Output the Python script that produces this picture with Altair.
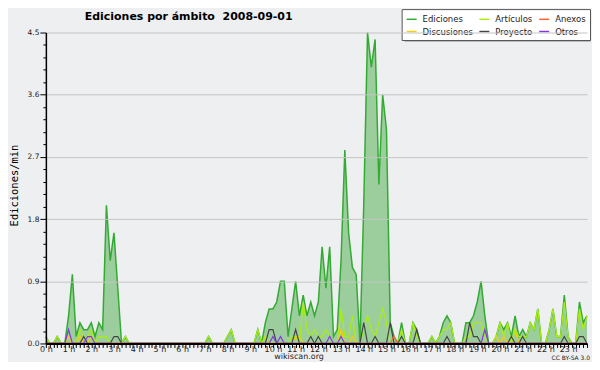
import altair as alt
import pandas as pd

# 10-minute buckets over the day (minutes since 00:00), one row per hour below
minutes = [10 * i for i in range(144)]

ediciones = [
    0.1, 0, 0, 0.1, 0, 0,          # 0 h
    0.4, 1.0, 0.1, 0.3, 0.2, 0.2,  # 1 h
    0.3, 0.1, 0.3, 0.2, 2.0, 1.2,  # 2 h
    1.6, 0.8, 0, 0.1, 0, 0,        # 3 h
    0, 0, 0, 0, 0, 0,              # 4 h
    0, 0, 0, 0, 0, 0,              # 5 h
    0, 0, 0, 0, 0, 0,              # 6 h
    0, 0.1, 0, 0, 0, 0,            # 7 h
    0.1, 0.2, 0, 0, 0, 0,          # 8 h
    0, 0, 0.2, 0, 0.3, 0.5,        # 9 h
    0.5, 0.6, 0.9, 0.9, 0.1, 0.5,  # 10 h
    0.9, 0.4, 0.7, 0.4, 0.6, 0.4,  # 11 h
    0.6, 1.4, 0.8, 1.4, 0.1, 0.2,  # 12 h
    1.2, 2.8, 1.6, 1.1, 1.0, 0.0,  # 13 h
    2.0, 4.5, 4.0, 4.4, 2.3, 3.6,  # 14 h
    3.1, 0.3, 0.1, 0, 0.3, 0,      # 15 h
    0, 0.3, 0.2, 0, 0, 0,          # 16 h
    0.1, 0, 0.1, 0.3, 0.4, 0.3,    # 17 h
    0, 0, 0, 0.3, 0.3, 0.4,        # 18 h
    0.6, 0.9, 0.4, 0, 0, 0.1,      # 19 h
    0.3, 0.2, 0.3, 0.1, 0.4, 0.1,  # 20 h
    0.2, 0.1, 0.3, 0.2, 0.5, 0,    # 21 h
    0, 0.2, 0.5, 0.1, 0.1, 0.7,    # 22 h
    0.1, 0, 0, 0.6, 0.3, 0.4,      # 23 h
]

articulos = [
    0.1, 0, 0, 0.1, 0, 0,
    0, 0, 0, 0.2, 0.1, 0.1,
    0.2, 0, 0.1, 0.1, 0.1, 0,
    0, 0, 0, 0.1, 0, 0,
    0, 0, 0, 0, 0, 0,
    0, 0, 0, 0, 0, 0,
    0, 0, 0, 0, 0, 0,
    0, 0.1, 0, 0, 0, 0,
    0.1, 0.2, 0, 0, 0, 0,
    0, 0, 0.2, 0, 0.1, 0,
    0, 0, 0, 0, 0, 0.1,
    0.1, 0, 0.6, 0.2, 0.1, 0.2,
    0.1, 0.1, 0.2, 0.1, 0, 0,
    0.5, 0.1, 0.1, 0.4, 0, 0,
    0.2, 0.4, 0.2, 0.1, 0.3, 0.5,
    0.3, 0, 0, 0, 0.2, 0,
    0, 0.3, 0.1, 0, 0, 0,
    0.1, 0, 0.1, 0.2, 0.2, 0.3,
    0, 0, 0, 0.1, 0.1, 0.3,
    0.3, 0.3, 0.1, 0, 0, 0.1,
    0.3, 0.1, 0.3, 0, 0.2, 0.1,
    0.1, 0.1, 0.3, 0.2, 0.5, 0,
    0, 0.2, 0.5, 0.1, 0.1, 0.6,
    0.1, 0, 0, 0.5, 0.2, 0.4,
]

discusiones = [
    0, 0, 0, 0, 0, 0,
    0.1, 0, 0, 0.1, 0, 0,
    0.1, 0, 0, 0, 0, 0,
    0, 0, 0, 0, 0, 0,
    0, 0, 0, 0, 0, 0,
    0, 0, 0, 0, 0, 0,
    0, 0, 0, 0, 0, 0,
    0, 0, 0, 0, 0, 0,
    0, 0, 0, 0, 0, 0,
    0, 0, 0, 0, 0.1, 0,
    0, 0, 0, 0, 0, 0,
    0.1, 0.1, 0, 0, 0, 0,
    0, 0, 0, 0, 0, 0,
    0.2, 0, 0, 0.1, 0, 0,
    0, 0, 0, 0, 0, 0,
    0, 0, 0, 0, 0, 0,
    0, 0, 0, 0, 0, 0,
    0, 0, 0, 0, 0, 0,
    0, 0, 0, 0, 0, 0,
    0, 0, 0, 0, 0, 0.1,
    0, 0.1, 0, 0, 0.2, 0,
    0, 0, 0, 0, 0, 0,
    0, 0, 0, 0, 0, 0,
    0, 0, 0, 0, 0, 0,
]

anexos = [0] * 92 + [0.1] + [0] * 51

proyecto = [
    0, 0, 0, 0, 0, 0,
    0, 0, 0, 0, 0.1, 0,
    0, 0, 0, 0, 0, 0,
    0.1, 0.1, 0, 0, 0, 0,
    0, 0, 0, 0, 0, 0,
    0, 0, 0, 0, 0, 0,
    0, 0, 0, 0, 0, 0,
    0, 0, 0, 0, 0, 0,
    0, 0, 0, 0, 0, 0,
    0, 0, 0, 0, 0, 0.2,
    0.2, 0, 0, 0, 0, 0,
    0.2, 0, 0, 0, 0.1, 0,
    0.1, 0, 0, 0, 0, 0,
    0, 0, 0, 0, 0, 0,
    0.3, 0, 0, 0.1, 0, 0,
    0, 0.3, 0, 0, 0.1, 0,
    0, 0, 0.2, 0, 0, 0,
    0, 0, 0, 0, 0.1, 0,
    0, 0, 0, 0, 0.3, 0.1,
    0.1, 0, 0, 0, 0, 0,
    0, 0, 0, 0.1, 0, 0,
    0.1, 0, 0, 0, 0, 0,
    0, 0, 0, 0, 0, 0.1,
    0, 0, 0, 0.1, 0.1, 0,
]

otros = [
    0, 0, 0, 0, 0, 0,
    0.2, 0, 0, 0, 0, 0.1,
    0.1, 0, 0, 0, 0, 0,
    0, 0, 0, 0, 0, 0,
    0, 0, 0, 0, 0, 0,
    0, 0, 0, 0, 0, 0,
    0, 0, 0, 0, 0, 0,
    0, 0, 0, 0, 0, 0,
    0, 0, 0, 0, 0, 0,
    0, 0, 0, 0, 0, 0,
    0.1, 0, 0.1, 0, 0, 0,
    0, 0, 0, 0, 0, 0,
    0, 0, 0, 0.1, 0, 0,
    0.1, 0, 0, 0, 0, 0,
    0, 0, 0, 0, 0, 0,
    0, 0, 0, 0, 0, 0,
    0, 0, 0, 0, 0, 0,
    0, 0, 0, 0, 0, 0,
    0, 0, 0, 0, 0, 0,
    0, 0, 0.2, 0, 0, 0,
    0, 0, 0, 0, 0, 0,
    0, 0, 0, 0, 0, 0,
    0, 0, 0, 0, 0, 0,
    0, 0, 0, 0, 0, 0,
]

# legend is filled column by column: (Ediciones, Discusiones), (Artículos, Proyecto), (Anexos, Otros)
series_names = ["Ediciones", "Discusiones", "Artículos", "Proyecto", "Anexos", "Otros"]
series_values = [ediciones, discusiones, articulos, proyecto, anexos, otros]
series_colors = ["#33aa33", "#ffcc00", "#aaee11", "#444444", "#ff6633", "#8833ee"]

title_text = "Ediciones por ámbito\u00a0 2008-09-01"
y_title = "Ediciones/min"
footer_text = "wikiscan.org"
license_text = "CC BY-SA 3.0"

rows = []
for name, vals in zip(series_names, series_values):
    for m, v in zip(minutes, vals):
        rows.append({"t": m, "v": v, "serie": name})
df = pd.DataFrame(rows)

major = "round(datum.value*100) % 90 == 0"
y_ticks = [round(0.18 * k, 2) for k in range(26)]

x_enc = alt.X(
    "t:Q",
    scale=alt.Scale(domain=[0, 1430], nice=False, zero=False),
    axis=alt.Axis(
        values=minutes,
        labelExpr="datum.value % 60 == 0 ? (datum.value / 60) + ' h' : ''",
        labelOverlap=False, labelFlush=False,
        labelFont="DejaVu Sans", labelFontSize=8, labelColor="#222",
        labelPadding=-2, tickSize=4, tickColor="black",
        domainColor="black", domainWidth=2,
        grid=False, title=None, zindex=1,
    ),
)
y_enc = alt.Y(
    "v:Q",
    scale=alt.Scale(domain=[0, 4.5], nice=False, zero=True),
    axis=alt.Axis(
        values=y_ticks,
        labelExpr=f"{major} ? format(datum.value, '.1f') : ''",
        labelOverlap=False, labelFlush=False,
        labelFont="DejaVu Sans", labelFontSize=7.5, labelColor="#222", labelPadding=1,
        tickSize={"condition": {"test": major, "value": 6}, "value": 3},
        tickColor="black", domainColor="black", domainWidth=1.5,
        grid=True, gridColor="#c4c4c4",
        gridOpacity={"condition": {"test": major, "value": 1}, "value": 0},
        title=y_title, titleFont="DejaVu Sans Mono", titleFontSize=10.5,
        titleFontWeight="normal", titleColor="black",
        titleX=-31, titleY=153, titleBaseline="middle", titleAngle=270,
        zindex=1,
    ),
)

color = alt.Color(
    "serie:N",
    scale=alt.Scale(domain=series_names, range=series_colors),
    legend=alt.Legend(
        orient="none", legendX=357, legendY=-23.5, columns=3, gridAlign="each",
        title=None, symbolType="stroke", symbolSize=100, symbolStrokeWidth=1.5,
        labelFont="DejaVu Sans", labelFontSize=8.5, labelColor="#222",
        labelOffset=5, columnPadding=3, rowPadding=1.5, padding=4,
        fillColor="white", strokeColor="#555555",
    ),
)

base = alt.Chart(df)

area = base.transform_filter(alt.datum.serie == "Ediciones").mark_area(
    fill="#28a028", fillOpacity=0.41
).encode(x=x_enc, y=y_enc)

ed_line = base.transform_filter(alt.datum.serie == "Ediciones").mark_line(
    strokeWidth=1.5
).encode(x=x_enc, y=y_enc, color=color)

sub_lines = base.transform_filter(alt.datum.serie != "Ediciones").mark_line(
    strokeWidth=1.2
).encode(x=x_enc, y=y_enc, color=color)

shadow = alt.Chart(pd.DataFrame({"k": [0]})).mark_rect(fill="#8a8a8a").encode(
    x=alt.value(360), x2=alt.value(546.5), y=alt.value(-20.5), y2=alt.value(9)
)

title = alt.Chart(pd.DataFrame({"t": [title_text]})).mark_text(
    font="DejaVu Sans", fontSize=11, fontWeight="bold", align="left",
    baseline="alphabetic", color="black"
).encode(text="t:N", x=alt.value(39), y=alt.value(-13))

footer = alt.Chart(pd.DataFrame({"t": [footer_text]})).mark_text(
    font="DejaVu Sans", fontSize=8, align="center", baseline="alphabetic", color="#222"
).encode(text="t:N", x=alt.value(254), y=alt.value(328))

lic = alt.Chart(pd.DataFrame({"t": [license_text]})).mark_text(
    font="DejaVu Sans", fontSize=6, align="right", baseline="alphabetic", color="#222"
).encode(text="t:N", x=alt.value(546), y=alt.value(329))

chart = alt.layer(shadow, area, ed_line, sub_lines, title, footer, lic).properties(
    width=543, height=312,
    autosize=alt.AutoSizeParams(type="none"),
    padding={"left": 38, "top": 24, "right": 5, "bottom": 18},
    background="#eeeff0",
).configure_view(stroke=None)

chart.save("out.html", embed_options={"renderer": "svg", "actions": False})
